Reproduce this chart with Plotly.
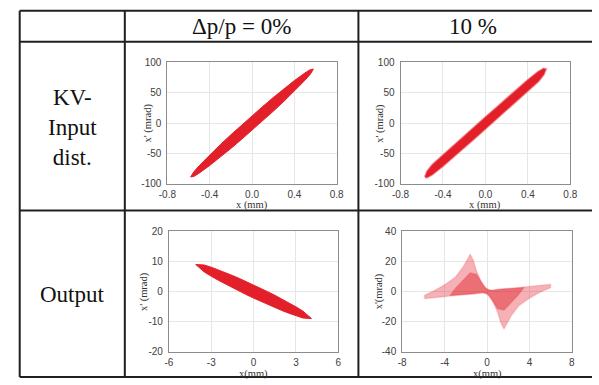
import plotly.graph_objects as go

W, H = 599, 385
RED = "#e3202a"

# ---------------- data ----------------
col_headers = ["\u0394p/p = 0%", "10 %"]
row_labels = ["KV-<br>Input<br>dist.", "Output"]

# KV input, dp/p = 0 % : outline of the filled ellipse  (x in mm, x' in mrad)
in0_x = [-0.58, -0.55, -0.5, -0.4, -0.3, -0.2, -0.1, 0.0, 0.1, 0.2, 0.3, 0.4, 0.5, 0.55, 0.58,
         0.55, 0.5, 0.4, 0.3, 0.2, 0.1, 0.0, -0.1, -0.2, -0.3, -0.4, -0.5, -0.55, -0.58]
in0_y = [-89, -80.6, -70.6, -52.7, -35.7, -19.4, -3.5, 12, 27.1, 42, 56.3, 70.1, 82.8, 88.2, 89,
         80.6, 70.6, 52.7, 35.7, 19.4, 3.5, -12, -27.1, -42, -56.3, -70.1, -82.8, -88.2, -89]

# KV input, dp/p = 10 % : outline of the band
in10_x = [-0.57, -0.55, -0.5, -0.4, -0.3, -0.2, -0.1, 0.0, 0.1, 0.2, 0.3, 0.4, 0.5, 0.55, 0.57,
          0.55, 0.5, 0.4, 0.3, 0.2, 0.1, 0.0, -0.1, -0.2, -0.3, -0.4, -0.5, -0.55, -0.57]
in10_y = [-89, -80, -69, -53, -37, -21.5, -6, 9.5, 25, 40.5, 56, 71, 85, 90, 89,
          80, 69, 53, 37, 21.5, 6, -9.5, -25, -40.5, -56, -71, -85, -90, -89]

# Output, dp/p = 0 % : outline of the ellipse
out0_x = [-4.1, -3.5, -3.0, -2.5, -2.0, -1.5, -1.0, -0.5, 0.0, 0.5, 1.0, 1.5, 2.0, 2.5, 3.0, 3.5, 4.1,
          3.5, 3.0, 2.5, 2.0, 1.5, 1.0, 0.5, 0.0, -0.5, -1.0, -1.5, -2.0, -2.5, -3.0, -3.5, -4.1]
out0_y = [9.0, 8.83, 8.09, 7.23, 6.31, 5.34, 4.33, 3.28, 2.2, 1.08, -0.07, -1.24, -2.47, -3.75, -5.09, -6.53, -9.0,
          -8.83, -8.09, -7.23, -6.31, -5.34, -4.33, -3.28, -2.2, -1.08, 0.07, 1.24, 2.47, 3.75, 5.09, 6.53, 9.0]

# Output, dp/p = 10 % : bow-tie cloud, sparse outer lobes and denser core
out10_outer_x = [-5.9, -5.9, -5.0, -4.0, -3.0, -2.3, -1.8, -1.6, -1.3, -1.0, -0.6, -0.2, 0.3,
                 1.0, 2.5, 4.0, 5.0, 6.0, 6.0, 5.0, 4.0, 3.0, 2.3, 1.8, 1.6, 1.3, 1.0, 0.6, 0.2, -0.3,
                 -1.0, -2.5, -4.0, -5.0, -5.9]
out10_outer_y = [-4.8, -2.5, 0.5, 4.5, 9.5, 16, 22, 25, 21, 14, 7.5, 2.5, 0.8,
                 1.5, 2.3, 3.2, 4.0, 4.8, 2.5, -0.5, -4.5, -9.5, -16, -22, -25, -21, -14, -7.5, -2.5, -0.8,
                 -1.5, -2.3, -3.2, -4.0, -4.8]
out10_core_x = [-3.5, -3.0, -2.2, -1.6, -1.0, -0.5, 0.0, 0.5, 1.5, 3.5, 3.5, 3.0, 2.2, 1.6, 1.0, 0.5, 0.0,
                -0.5, -1.5, -3.5]
out10_core_y = [-2.6, 2.0, 8.0, 12.5, 11.5, 6.0, 1.5, 0.6, 1.6, 2.6, 2.6, -2.0, -8.0, -12.5, -11.5, -6.0, -1.5,
                -0.6, -1.6, -2.6]

# axes: ticks and their labels
x_ticks_in = [-0.8, -0.4, 0.0, 0.4, 0.8]
x_text_in = ["-0.8", "-0.4", "0.0", "0.4", "0.8"]
y_ticks_in = [-100, -50, 0, 50, 100]
y_text_in = ["-100", "-50", "0", "50", "100"]
x_ticks_o0 = [-6, -3, 0, 3, 6]
x_text_o0 = ["-6", "-3", "0", "3", "6"]
y_ticks_o0 = [-20, -10, 0, 10, 20]
y_text_o0 = ["-20", "-10", "0", "10", "20"]
x_ticks_o10 = [-8, -4, 0, 4, 8]
x_text_o10 = ["-8", "-4", "0", "4", "8"]
y_ticks_o10 = [-40, -20, 0, 20, 40]
y_text_o10 = ["-40", "-20", "0", "20", "40"]

# ---------------- layout helpers ----------------
def px(x):
    return x / W

def py(y):
    return 1 - y / H

# plot boxes in pixels: (left, right, top, bottom)
boxes = [
    (162.7, 336.7, 58.3, 183.3),
    (402.3, 576.7, 58.3, 183.3),
    (164.3, 338.3, 232.7, 356.7),
    (404.0, 578.3, 232.7, 356.7),
]

fig = go.Figure()

def poly(xs, ys, ax, fill, line_color, lw=1):
    fig.add_trace(go.Scatter(x=xs, y=ys, mode="lines", fill="toself", fillcolor=fill,
                             line=dict(color=line_color, width=lw), hoverinfo="skip",
                             showlegend=False, xaxis="x" + ax, yaxis="y" + ax))

poly(in0_x, in0_y, "", RED, RED)
poly(in10_x, in10_y, "2", RED, "rgba(227,32,42,0.55)", 2)
poly(out0_x, out0_y, "3", RED, RED)
poly(out10_outer_x, out10_outer_y, "4", "rgba(227,32,42,0.35)", "rgba(227,32,42,0.15)", 1.5)
poly(out10_core_x, out10_core_y, "4", "rgba(227,32,42,0.45)", "rgba(227,32,42,0.15)", 1.5)

tickfont = dict(family="Liberation Sans, Arial, sans-serif", size=10, color="#404040")
axis_common = dict(showline=True, mirror=True, linecolor="#8c8c8c", linewidth=1,
                   showgrid=True, gridcolor="#e6e6e6", gridwidth=1, zeroline=False,
                   ticks="", tickfont=tickfont, fixedrange=True)

specs = [
    ("", [-0.8, 0.8], x_ticks_in, x_text_in, [-100, 100], y_ticks_in, y_text_in),
    ("2", [-0.8, 0.8], x_ticks_in, x_text_in, [-100, 100], y_ticks_in, y_text_in),
    ("3", [-6, 6], x_ticks_o0, x_text_o0, [-20, 20], y_ticks_o0, y_text_o0),
    ("4", [-8, 8], x_ticks_o10, x_text_o10, [-40, 40], y_ticks_o10, y_text_o10),
]

layout = dict(width=W, height=H, margin=dict(l=0, r=0, t=0, b=0),
              paper_bgcolor="white", plot_bgcolor="white", showlegend=False)

for (suffix, xr, xt, xtt, yr, yt, ytt), (l, r, t, b) in zip(specs, boxes):
    layout["xaxis" + suffix] = dict(axis_common, domain=[px(l), px(r)], range=xr,
                                    tickvals=xt, ticktext=xtt, ticklabelstandoff=1,
                                    anchor="y" + suffix)
    layout["yaxis" + suffix] = dict(axis_common, domain=[py(b), py(t)], range=yr,
                                    tickvals=yt, ticktext=ytt,
                                    anchor="x" + suffix, ticklabelstandoff=3)

fig.update_layout(**layout)

# table grid
LC = "#231f20"
shapes = []
for yy in [5, 37, 211, 383]:
    shapes.append(dict(type="line", xref="paper", yref="paper", x0=px(11), x1=1.0,
                       y0=py(yy), y1=py(yy), line=dict(color=LC, width=2)))
for xx in [11, 119, 359]:
    shapes.append(dict(type="line", xref="paper", yref="paper", x0=px(xx), x1=px(xx),
                       y0=py(5), y1=py(383), line=dict(color=LC, width=2)))
fig.update_layout(shapes=shapes)

serif = "Liberation Serif, Times New Roman, serif"
ann = []
ann.append(dict(text=col_headers[0], x=px(239), y=py(21), showarrow=False,
                font=dict(family=serif, size=23, color="#111")))
ann.append(dict(text=col_headers[1], x=px(477), y=py(21), showarrow=False,
                font=dict(family=serif, size=23, color="#111")))
ann.append(dict(text=row_labels[0], x=px(65), y=py(125), showarrow=False,
                font=dict(family=serif, size=23, color="#111")))
ann.append(dict(text=row_labels[1], x=px(65), y=py(298), showarrow=False,
                font=dict(family=serif, size=23, color="#111")))

# axis titles
xt_titles = [("x (mm)", 250, 205.5), ("x (mm)", 489.5, 205.5), ("x(mm)", 251.3, 379.5), ("x(mm)", 491.2, 379.5)]
yt_titles = [("x' (mrad)", 143, 121), ("x' (mrad)", 381.7, 121), ("x' (mrad)", 138.3, 294.7), ("x'(mrad)", 380, 294.7)]
for txt, xx, yy in xt_titles:
    ann.append(dict(text=txt, x=px(xx), y=py(yy), showarrow=False,
                    font=dict(family=serif, size=10.5, color="#333")))
for txt, xx, yy in yt_titles:
    ann.append(dict(text=txt, x=px(xx), y=py(yy), showarrow=False, textangle=-90,
                    font=dict(family=serif, size=10.5, color="#333")))
for a in ann:
    a.update(xref="paper", yref="paper", xanchor="center", yanchor="middle")
fig.update_layout(annotations=ann)

fig.write_html("out.html", config={"displayModeBar": False},
               post_script="document.body.style.margin='0';document.body.style.overflow='hidden';")
